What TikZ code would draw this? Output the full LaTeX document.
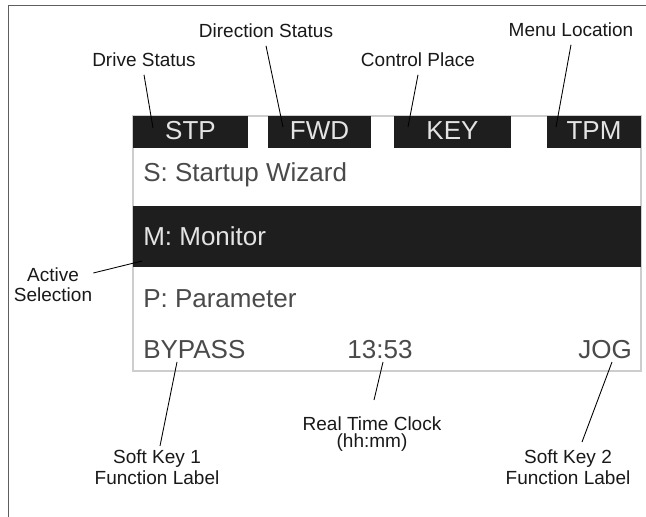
\documentclass[tikz,border=0pt]{standalone}
\usepackage{fontspec}
\setmainfont{Liberation Sans}
\definecolor{framegray}{HTML}{5E5E5E}
\definecolor{scrborder}{HTML}{CDCDCD}
\definecolor{lcdblack}{HTML}{1E1E1E}
\definecolor{lcdlight}{HTML}{E4E4E4}
\definecolor{lcdtext}{HTML}{4A4A4A}
\begin{document}
\begin{tikzpicture}[x=0.75pt,y=-0.75pt,
  lbl/.style={font=\fontsize{14.25}{15}\selectfont, text=black!90, inner xsep=0pt, inner ysep=5.5pt},
  lbltwo/.style={align=center, text=black!90, inner sep=0pt},
  lead/.style={draw=black, line width=0.65pt},
  stbox/.style={fill=lcdblack, text=lcdlight, font=\fontsize{19.5}{20}\selectfont, inner sep=0pt, minimum height=24pt, text height=14pt, text depth=3pt},
  lcd/.style={font=\fontsize{19.5}{20}\selectfont, inner sep=0pt, text=lcdtext}]
\useasboundingbox (0,0) rectangle (646,517);
\fill[white] (0,0) rectangle (646,517);
% outer frame (cropped)
\draw[framegray, line width=1.2pt] (8.5,540) -- (8.5,5.5) -- (670,5.5);
% screen
\draw[scrborder, line width=1.1pt] (133,116) rectangle (641,371);
% status boxes
\node[stbox, minimum width=86.25pt] (stp) at (190.5,132) {STP};
\node[stbox, minimum width=77.25pt] (fwd) at (319.5,132) {FWD};
\node[stbox, minimum width=87.75pt] (key) at (452.5,132) {KEY};
\node[stbox, minimum width=70.5pt] (tpm) at (594,132) {TPM};
% active bar
\fill[lcdblack] (133,206) rectangle (641,267);
% menu texts
\node[lcd, anchor=base west] (wiz) at (143,181.7) {S: Startup Wizard};
\node[lcd, anchor=base west, text=lcdlight] (mon) at (143,245) {M: Monitor};
\node[lcd, anchor=base west] (par) at (143,307) {P: Parameter};
\node[lcd, anchor=base west] (byp) at (143,358.5) {BYPASS};
\node[lcd, anchor=base] (time) at (380,358.5) {13:53};
\node[lcd, anchor=base east] (jog) at (632,358.5) {JOG};
% pointer tips
\coordinate (tDrive) at (153,128);
\coordinate (tDir) at (283,127);
\coordinate (tCtrl) at (408,127);
\coordinate (tMenu) at (556,127);
\coordinate (tAct) at (142,261);
\coordinate (tByp) at (177,362);
\coordinate (tClk) at (383,362);
\coordinate (tJog) at (612,362);
% top labels
\node[lbl, anchor=base] (drv) at (144,67) {Drive Status};
\node[lbl, anchor=base] (dir) at (266,38) {Direction Status};
\node[lbl, anchor=base] (ctl) at (418,67) {Control Place};
\node[lbl, anchor=base] (mnu) at (571,37) {Menu Location};
\draw[lead] (drv.south) -- (tDrive);
\draw[lead] (dir.south) -- (tDir);
\draw[lead] (ctl.south) -- (tCtrl);
\draw[lead] (mnu.south) -- (tMenu);
% side label
\node[lbltwo, font=\fontsize{14.25}{15}\selectfont] (act) at (53,285) {Active\\Selection};
\draw[lead] ([shift={(1,-12)}]act.east) -- (tAct);
% bottom labels
\node[lbltwo, font=\fontsize{14.25}{15.75}\selectfont, anchor=north] (sk1) at (157,449) {Soft Key 1\\Function Label};
\node[lbltwo, font=\fontsize{14.25}{12.75}\selectfont, anchor=north] (clk) at (372,416) {Real Time Clock\\(hh:mm)};
\node[lbltwo, font=\fontsize{14.25}{15.75}\selectfont, anchor=north] (sk2) at (568,449) {Soft Key 2\\Function Label};
\draw[lead] (tByp) -- ([shift={(3,-3)}]sk1.north);
\draw[lead] (tClk) -- ([shift={(2,-16)}]clk.north);
\draw[lead] (tJog) -- ([shift={(14,-7)}]sk2.north);
\end{tikzpicture}
\end{document}
